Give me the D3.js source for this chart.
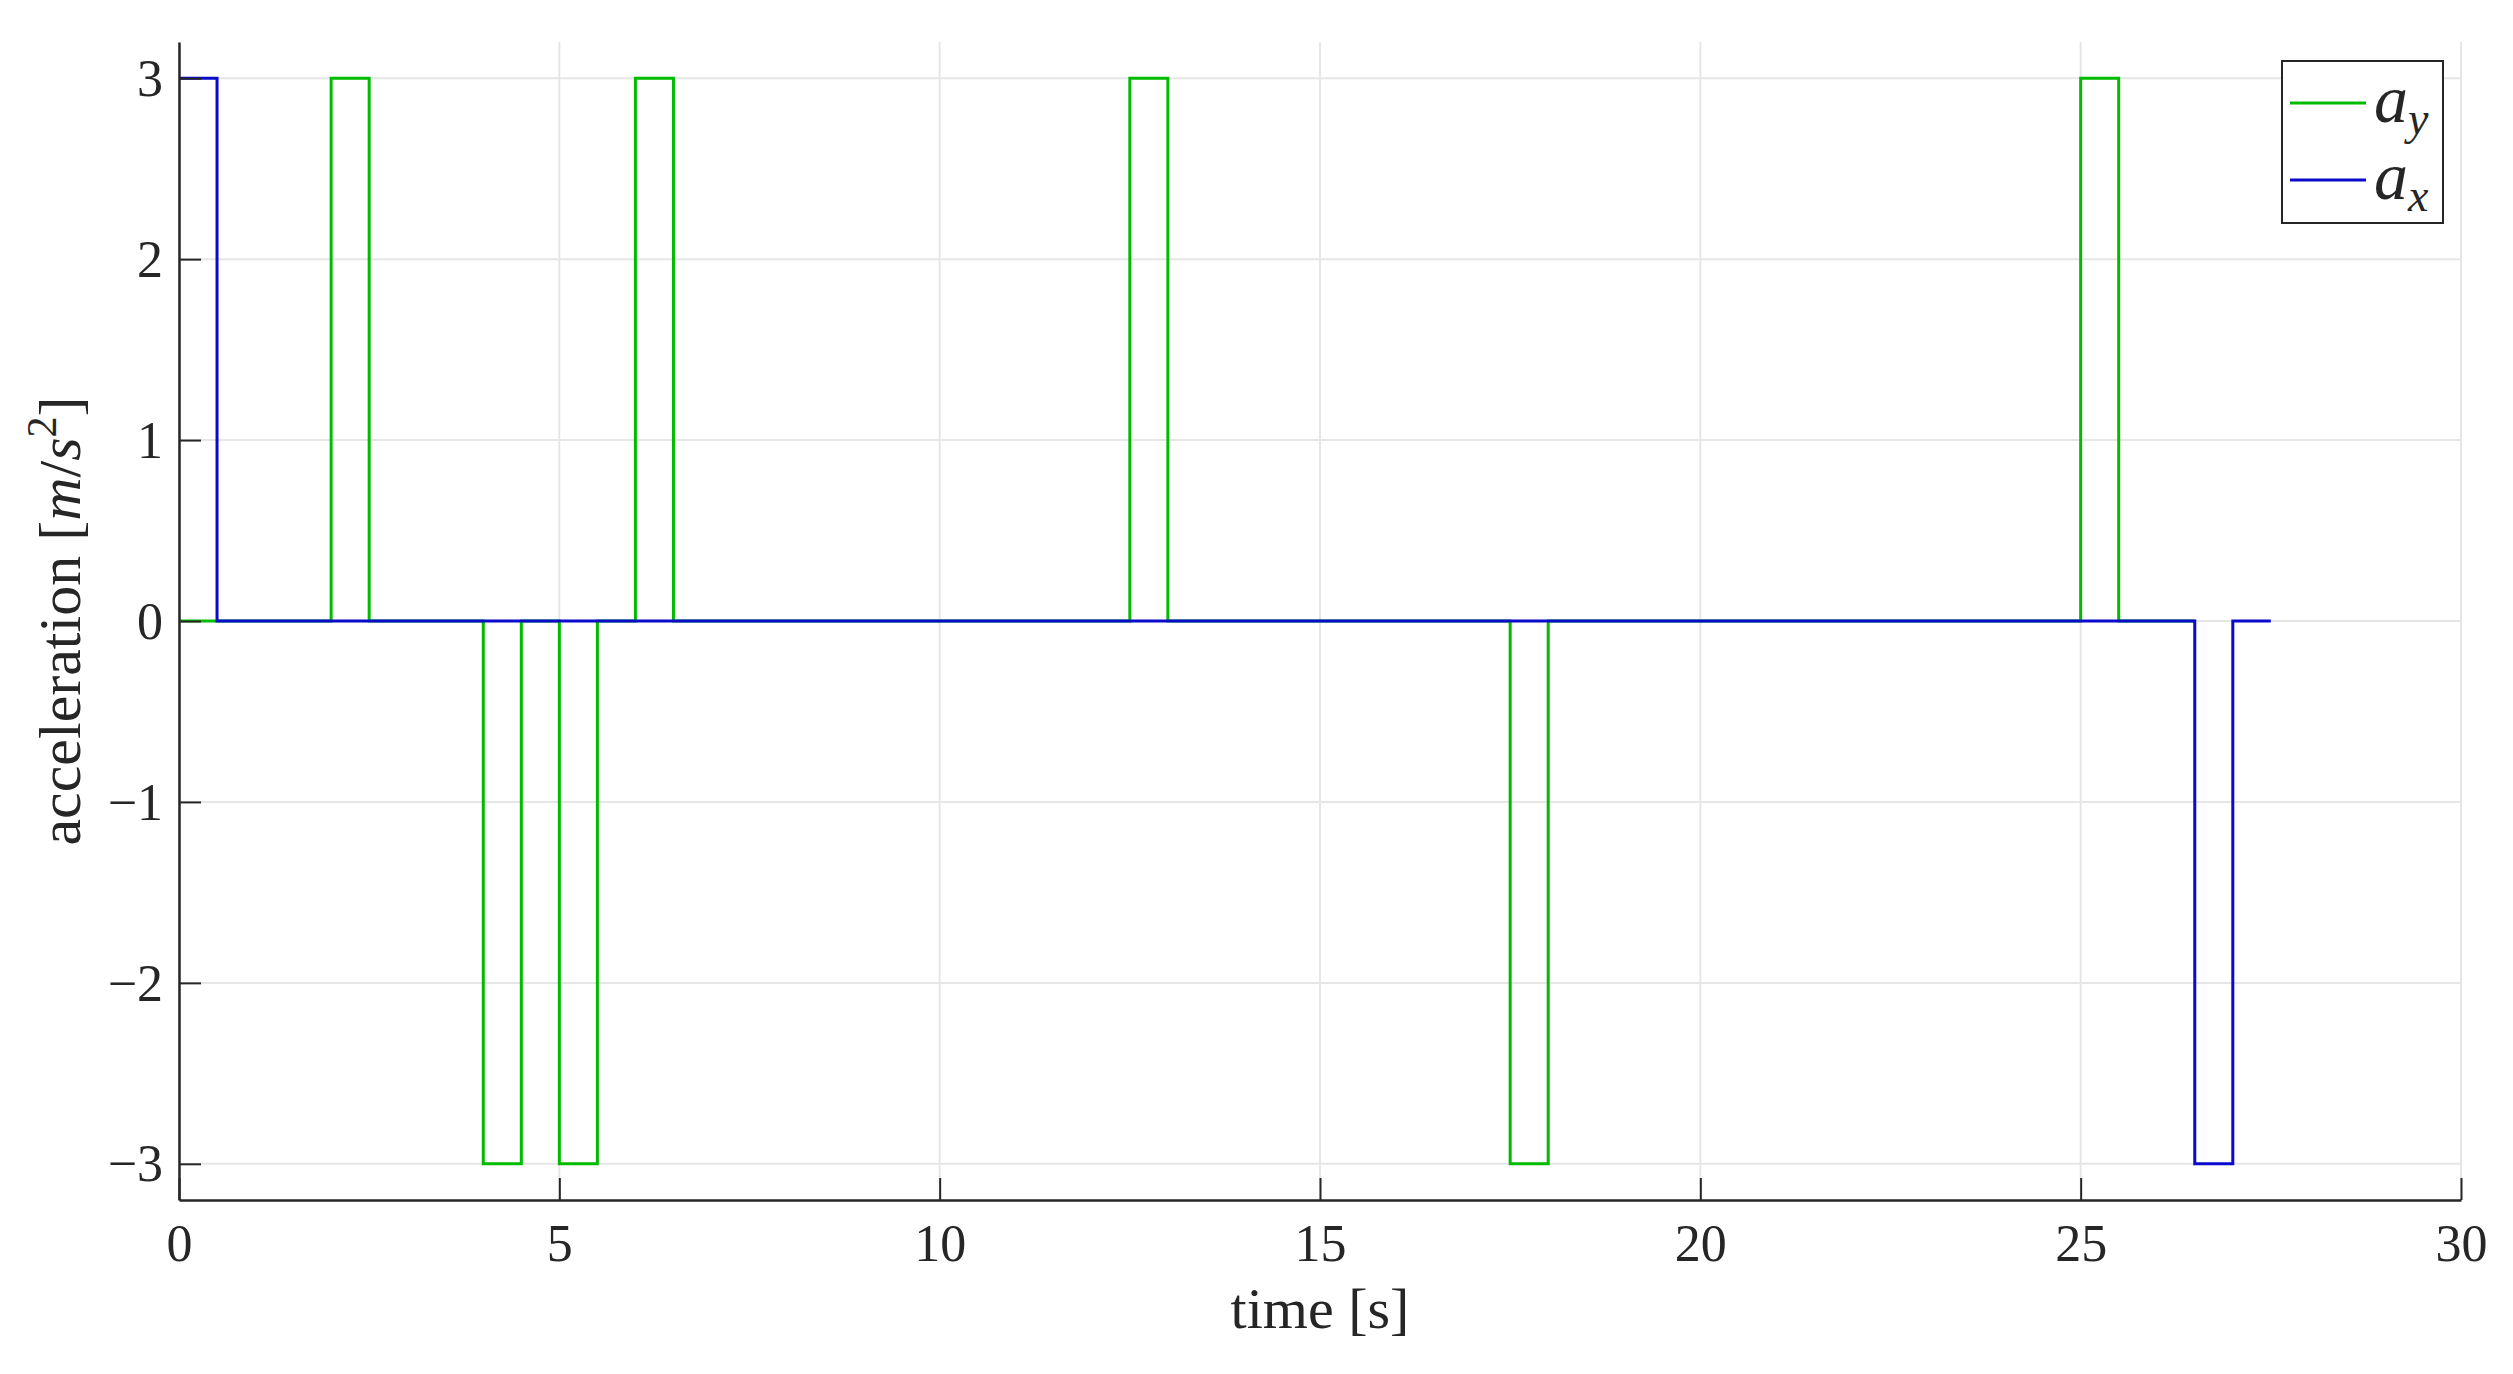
<!DOCTYPE html>
<html>
<head>
<meta charset="utf-8">
<script src="https://cdn.jsdelivr.net/npm/d3@7"></script>
<style>
  body { margin: 0; background: #fff; }
  text { font-family: "Liberation Serif", "DejaVu Serif", serif; fill: #262626; }
</style>
</head>
<body>
<div id="graph"></div>
<script>
// step signals (value holds until next time)
var ayTime  = [0, 2, 2.5, 4, 4.5, 5, 5.5, 6, 6.5, 12.5, 13, 17.5, 18, 25, 25.5, 26.5];
var ayValue = [0, 3, 0, -3, 0, -3, 0, 3, 0, 3, 0, -3, 0, 3, 0, 0];
var axTime  = [0, 0.5, 26.5, 27, 27.5];
var axValue = [3, 0, -3, 0, 0];

var xTicks = [0, 5, 10, 15, 20, 25, 30];
var yTicks = [-3, -2, -1, 0, 1, 2, 3];

var width = 2513,
    height = 1374,
    plotLeft = 179, plotRight = 2461,
    plotTop = 42, plotBottom = 1200;

var svg = d3.select("#graph").append("svg")
    .attr("width", width)
    .attr("height", height);

var x = d3.scaleLinear().domain([0, 30]).range([plotLeft, plotRight]);
var y = d3.scaleLinear().domain([-3.2, 3.2]).range([plotBottom, plotTop]);

// grid
svg.append("g").selectAll("line")
    .data(xTicks)
    .enter().append("line")
    .attr("x1", d => x(d)).attr("x2", d => x(d))
    .attr("y1", plotTop).attr("y2", plotBottom)
    .attr("stroke", "#e6e6e6").attr("stroke-width", 2);
svg.append("g").selectAll("line")
    .data(yTicks)
    .enter().append("line")
    .attr("x1", plotLeft).attr("x2", plotRight)
    .attr("y1", d => y(d)).attr("y2", d => y(d))
    .attr("stroke", "#e6e6e6").attr("stroke-width", 2);

var line = d3.line()
    .x(d => x(d[0]))
    .y(d => y(d[1]))
    .curve(d3.curveStepAfter);

var ayData = ayTime.map((t, i) => [t, ayValue[i]]);
var axData = axTime.map((t, i) => [t, axValue[i]]);

svg.append("path")
    .datum(ayData)
    .attr("d", line)
    .attr("fill", "none")
    .attr("stroke", "#00bb00")
    .attr("stroke-width", 3);

svg.append("path")
    .datum(axData)
    .attr("d", line)
    .attr("fill", "none")
    .attr("stroke", "#0a0acc")
    .attr("stroke-width", 3);

// axes (ticks inside)
var xAxis = d3.axisBottom(x).tickValues(xTicks).tickSizeInner(-22).tickSizeOuter(0);
var yAxis = d3.axisLeft(y).tickValues(yTicks).tickSizeInner(-22).tickSizeOuter(0)
    .tickFormat(d => d < 0 ? "\u2212" + Math.abs(d) : d);

var gx = svg.append("g").attr("transform", "translate(0," + plotBottom + ")").call(xAxis);
var gy = svg.append("g").attr("transform", "translate(" + plotLeft + ",0)").call(yAxis);

[gx, gy].forEach(function(g) {
    g.select(".domain").attr("stroke", "#262626").attr("stroke-width", 2.5);
    g.selectAll(".tick line").attr("stroke", "#262626").attr("stroke-width", 2);
    g.selectAll(".tick text")
        .style("font-family", '"Liberation Serif", serif')
        .style("font-size", "52px")
        .attr("fill", "#262626");
});
gx.selectAll(".tick text").attr("y", 24).attr("dy", "0.71em");
gy.selectAll(".tick text").attr("x", -16).attr("dy", "0.33em");

// x label
svg.append("text")
    .attr("x", (plotLeft + plotRight) / 2)
    .attr("y", 1328)
    .attr("text-anchor", "middle")
    .style("font-size", "58px")
    .text("time [s]");

// y label
var yl = svg.append("text")
    .attr("transform", "translate(80," + ((plotTop + plotBottom) / 2) + ") rotate(-90)")
    .attr("text-anchor", "middle")
    .style("font-size", "60px");
yl.append("tspan").text("acceleration [");
yl.append("tspan").style("font-style", "italic").text("m");
yl.append("tspan").text("/");
yl.append("tspan").style("font-style", "italic").text("s");
yl.append("tspan").attr("dy", -24).style("font-size", "42px").text("2");
yl.append("tspan").attr("dy", 24).text("]");

// legend
var legend = svg.append("g");
legend.append("rect")
    .attr("x", 2282).attr("y", 61)
    .attr("width", 161).attr("height", 162)
    .attr("fill", "#fff")
    .attr("stroke", "#262626").attr("stroke-width", 2);

var legendItems = [
    { name: "y", color: "#00bb00", yPos: 103 },
    { name: "x", color: "#0a0acc", yPos: 180 }
];
legendItems.forEach(function(d) {
    legend.append("line")
        .attr("x1", 2290).attr("x2", 2366)
        .attr("y1", d.yPos).attr("y2", d.yPos)
        .attr("stroke", d.color).attr("stroke-width", 3);
    var t = legend.append("text")
        .attr("x", 2374).attr("y", d.yPos + 19)
        .style("font-size", "68px")
        .style("font-style", "italic");
    t.append("tspan").text("a");
    t.append("tspan").attr("dy", 12).style("font-size", "46px").text(d.name);
});
</script>
</body>
</html>
